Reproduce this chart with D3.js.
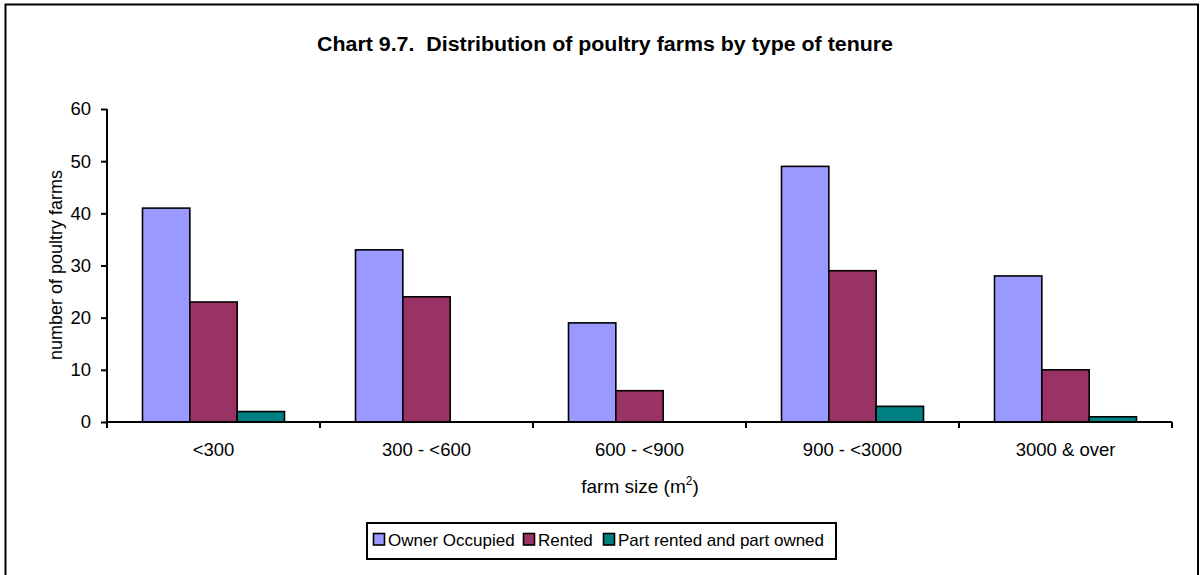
<!DOCTYPE html>
<html><head><meta charset="utf-8">
<script src="https://cdn.jsdelivr.net/npm/d3@7"></script>
<style>body{margin:0;background:#fff}svg{display:block;font-family:Arial,"Liberation Sans",sans-serif}</style>
</head><body><svg id="c" width="1201" height="575"></svg>
<script>
const categories = ["<300", "300 - <600", "600 - <900", "900 - <3000", "3000 & over"];
const seriesNames = ["Owner Occupied", "Rented", "Part rented and part owned"];
const ownerOccupied = [41, 33, 19, 49, 28];
const rented = [23, 24, 6, 29, 10];
const partRented = [2, 0, 0, 3, 1];
const yTicks = [0, 10, 20, 30, 40, 50, 60];
const colors = ["#9999FF", "#993366", "#008080"];
const series = [ownerOccupied, rented, partRented];

(function(){
const svg = d3.select("#c");
svg.append("rect").attr("x",5.5).attr("y",4.5).attr("width",1192.5).attr("height",575).attr("fill","#fff").attr("stroke","#000").attr("stroke-width",2);

const pLeft=107, pRight=1172, pTop=109, pBottom=422;
const x = d3.scaleBand().domain(categories).range([pLeft,pRight]).paddingInner(0).paddingOuter(0);
const gapRatio = 1.5;
const w = x.bandwidth()/(3+gapRatio);
const y = d3.scaleLinear().domain([0,60]).range([pBottom, pTop]);

// bars
categories.forEach((c,i)=>{
  series.forEach((s,j)=>{
    const v = s[i];
    if (v<=0) return;
    const bx = x(c) + w*gapRatio/2 + j*w;
    svg.append("rect").attr("x",bx).attr("y",y(v)).attr("width",w).attr("height",y(0)-y(v))
      .attr("fill",colors[j]).attr("stroke","#000").attr("stroke-width",1.6);
  });
});

// y axis
const ya = svg.append("g").attr("transform",`translate(${pLeft},0)`)
  .call(d3.axisLeft(y).tickValues(yTicks).tickSize(6).tickPadding(10).tickFormat(d3.format("d")));
ya.select(".domain").attr("stroke","#000").attr("stroke-width",2).attr("d",`M0,${pTop}V${pBottom}`);
ya.selectAll(".tick line").attr("stroke","#000").attr("stroke-width",2);
ya.selectAll("text").attr("font-size",18.5).attr("fill","#000").attr("font-family","Arial, Liberation Sans, sans-serif");

// x axis
const xa = svg.append("g").attr("transform",`translate(0,${pBottom})`)
  .call(d3.axisBottom(x).tickSize(0).tickPadding(20.5));
xa.select(".domain").attr("stroke","#000").attr("stroke-width",2).attr("d",`M${pLeft},0H${pRight}`);
xa.selectAll("text").attr("font-size",18.5).attr("fill","#000").attr("font-family","Arial, Liberation Sans, sans-serif");
const bounds = categories.map(c=>x(c)).concat([pRight]);
svg.append("g").selectAll("line").data(bounds).join("line")
  .attr("x1",d=>d).attr("x2",d=>d).attr("y1",pBottom).attr("y2",pBottom+6).attr("stroke","#000").attr("stroke-width",2);

// title
svg.append("text").attr("x",605).attr("y",51).attr("text-anchor","middle").attr("font-weight","bold").attr("font-size",20)
  .attr("textLength",576).attr("lengthAdjust","spacingAndGlyphs")
  .attr("xml:space","preserve").text("Chart 9.7.  Distribution of poultry farms by type of tenure");

// y label
svg.append("text").attr("transform","translate(61.5,265) rotate(-90)").attr("text-anchor","middle").attr("font-size",18)
  .text("number of poultry farms");

// x label
const xl = svg.append("text").attr("x",640).attr("y",493).attr("text-anchor","middle").attr("font-size",19);
xl.append("tspan").text("farm size (m");
xl.append("tspan").attr("font-size",12).attr("dy",-8).text("2");
xl.append("tspan").attr("dy",8).text(")");

// legend
svg.append("rect").attr("x",367).attr("y",523).attr("width",469).attr("height",36).attr("fill","#fff").attr("stroke","#000").attr("stroke-width",2);
const legX = [373, 523, 603];
seriesNames.forEach((n,j)=>{
  svg.append("rect").attr("x",legX[j]+0.5).attr("y",533.5).attr("width",11).attr("height",11.5).attr("fill",colors[j]).attr("stroke","#000").attr("stroke-width",1.6);
  svg.append("text").attr("x",legX[j]+15).attr("y",546).attr("font-size",17).text(n);
});
})();
</script></body></html>
